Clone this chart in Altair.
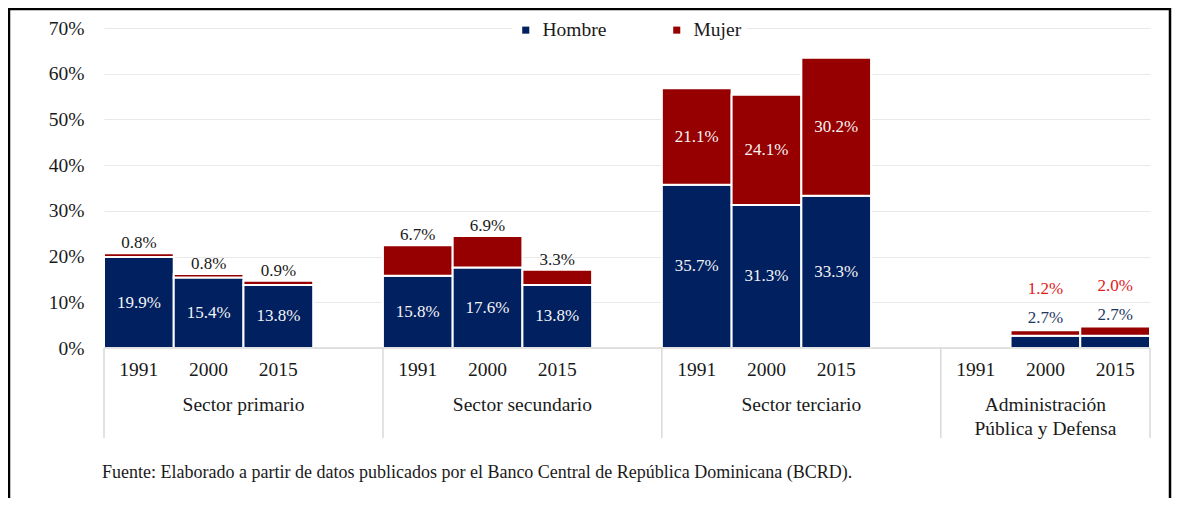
import altair as alt
import pandas as pd

# ---- data ----
sectors = ["Sector primario", "Sector secundario", "Sector terciario", "Administración\nPública y Defensa"]
years = ["1991", "2000", "2015"]
hombre = [19.9, 15.4, 13.8, 15.8, 17.6, 13.8, 35.7, 31.3, 33.3, None, 2.7, 2.7]
mujer = [0.8, 0.8, 0.9, 6.7, 6.9, 3.3, 21.1, 24.1, 30.2, None, 1.2, 2.0]
y_ticks = [0, 10, 20, 30, 40, 50, 60, 70]
note = "Fuente: Elaborado a partir de datos publicados por el Banco Central de República Dominicana (BCRD)."

NAVY = "#002060"
RED = "#960000"
FONT = "Liberation Serif"

# ---- build tables ----
bars, yrs, groups = [], [], []
n_slots = 4 * (len(sectors) - 1) + 3
for gi, sec in enumerate(sectors):
    start = gi * 4
    end = min(start + 4, n_slots)
    groups.append(dict(name=sec, center=(start + end) / 2, start=start, end=end))
    for yi, yr in enumerate(years):
        k = gi * 3 + yi
        slot = start + yi
        yrs.append(dict(x=slot + 0.5, year=yr))
        h, m = hombre[k], mujer[k]
        if h is None:
            continue
        tot = h + m
        if gi < 2:
            hp, mp = "inside", "above"
        elif gi == 2:
            hp, mp = "inside", "inside"
        else:
            hp, mp = "admin_h", "admin_m"
        bars.append(dict(slot=slot, slot_end=slot + 1, sexo="Hombre", y0=0, y1=h,
                         mid=h / 2, top=tot, lab=f"{h:.1f}%", pos=hp))
        bars.append(dict(slot=slot, slot_end=slot + 1, sexo="Mujer", y0=h, y1=tot,
                         mid=h + m / 2, top=tot, lab=f"{m:.1f}%", pos=mp))

bars = pd.DataFrame(bars)
yrs = pd.DataFrame(yrs)
groups = pd.DataFrame(groups)
divs = pd.DataFrame({"x": sorted(set(groups["start"]).union(groups["end"]))})
base_df = pd.DataFrame({"x": [0], "x2": [n_slots], "y": [0]})

xs = alt.Scale(domain=[0, n_slots], nice=False, zero=False)
ys = alt.Scale(domain=[0, 70], nice=False)

rect = alt.Chart(bars).mark_rect(stroke="white", strokeWidth=2).encode(
    x=alt.X("slot:Q", scale=xs, axis=None),
    x2="slot_end:Q",
    y=alt.Y("y0:Q", scale=ys, title=None,
            axis=alt.Axis(values=y_ticks, labelExpr="datum.value + '%'", domain=False, ticks=False,
                          grid=True, gridColor="#e9e9e9", gridWidth=1, labelPadding=20,
                          labelFont=FONT, labelFontSize=19.5, labelColor="#1a1a1a")),
    y2="y1:Q",
    color=alt.Color("sexo:N", scale=alt.Scale(domain=["Hombre", "Mujer"], range=[NAVY, RED]),
                    legend=alt.Legend(title=None, orient="none", direction="horizontal",
                                      legendX=408, legendY=-12, symbolType="square", symbolSize=50,
                                      symbolStrokeWidth=0, labelFont=FONT, labelFontSize=19.5,
                                      labelColor="#1a1a1a", columnPadding=60, labelOffset=7,
                                      fillColor="white", padding=4)),
)

baseline = alt.Chart(base_df).mark_rule(color="#d9d9d9", strokeWidth=1.5).encode(
    x=alt.X("x:Q", scale=xs), x2="x2:Q", y=alt.Y("y:Q", scale=ys))

dividers = alt.Chart(divs).mark_rule(color="#d9d9d9", strokeWidth=1.5).encode(
    x=alt.X("x:Q", scale=xs), y=alt.datum(0, scale=ys), y2=alt.datum(-19.7))

lab_inside = alt.Chart(bars).transform_filter("datum.pos == 'inside'").transform_calculate(
    xc="datum.slot + 0.5").mark_text(font=FONT, fontSize=17, color="#f4f4f4", baseline="middle").encode(
    x=alt.X("xc:Q", scale=xs), y=alt.Y("mid:Q", scale=ys), text="lab:N")

lab_above = alt.Chart(bars).transform_filter("datum.pos == 'above'").transform_calculate(
    xc="datum.slot + 0.5").mark_text(font=FONT, fontSize=17, color="#1a1a1a", baseline="middle", dy=-10).encode(
    x=alt.X("xc:Q", scale=xs), y=alt.Y("top:Q", scale=ys), text="lab:N")

lab_admin_h = alt.Chart(bars).transform_filter("datum.pos == 'admin_h'").transform_calculate(
    xc="datum.slot + 0.5").mark_text(font=FONT, fontSize=17, color="#1f3864", baseline="middle", dy=-12).encode(
    x=alt.X("xc:Q", scale=xs), y=alt.Y("top:Q", scale=ys), text="lab:N")

lab_admin_m = alt.Chart(bars).transform_filter("datum.pos == 'admin_m'").transform_calculate(
    xc="datum.slot + 0.5").mark_text(font=FONT, fontSize=17, color="#e0201b", baseline="middle", dy=-41).encode(
    x=alt.X("xc:Q", scale=xs), y=alt.Y("top:Q", scale=ys), text="lab:N")

year_text = alt.Chart(yrs).mark_text(font=FONT, fontSize=19.5, color="#1a1a1a", baseline="middle").encode(
    x=alt.X("x:Q", scale=xs), y=alt.datum(-4.8, scale=ys), text="year:N")

group_text = alt.Chart(groups).mark_text(font=FONT, fontSize=19.5, color="#1a1a1a", baseline="top",
                                         lineBreak="\n", lineHeight=24).encode(
    x=alt.X("center:Q", scale=xs), y=alt.datum(-10.4, scale=ys), text="name:N")

note_text = alt.Chart(pd.DataFrame({"t": [note], "x": [0]})).mark_text(
    font=FONT, fontSize=18, color="#1a1a1a", align="left", baseline="middle", dx=-2).encode(
    x=alt.X("x:Q", scale=xs), y=alt.datum(-27.3, scale=ys), text="t:N")

frame = alt.Chart(pd.DataFrame({"a": [0]})).mark_rect(fill=None, stroke="black", strokeWidth=2.5).encode(
    x=alt.value(-95), x2=alt.value(1066), y=alt.value(-19), y2=alt.value(500))

chart = alt.layer(
    frame, rect, baseline, dividers, lab_inside, lab_above, lab_admin_h, lab_admin_m,
    year_text, group_text, note_text
).properties(
    width=1046, height=320,
    autosize=alt.AutoSizeParams(type="none"),
    padding={"left": 96, "top": 20, "right": 22, "bottom": 150},
    background="white",
).configure_view(stroke=None)

chart.save("out.html", embed_options={"renderer": "svg", "actions": False})
